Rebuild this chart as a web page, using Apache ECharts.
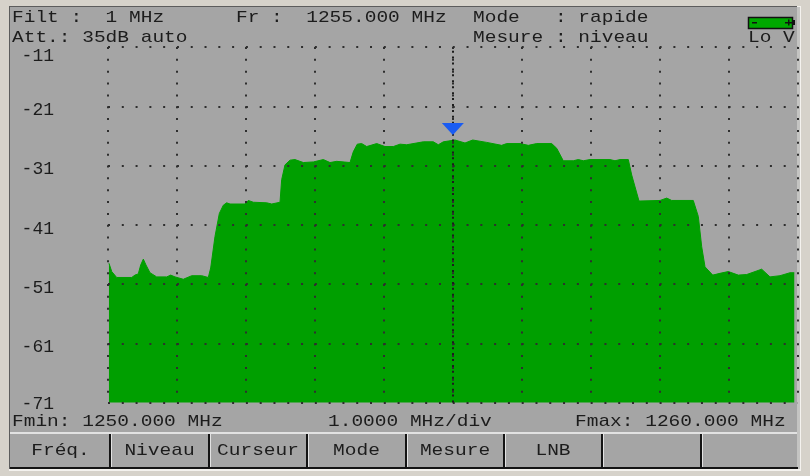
<!DOCTYPE html>
<html><head><meta charset="utf-8">
<style>html,body{margin:0;padding:0;background:#d6d2ca}#c{width:810px;height:476px}</style>
<script src="https://cdn.jsdelivr.net/npm/echarts@6/dist/echarts.min.js"></script>
</head><body><div id="c"></div>
<script>
var freqOffsetMHz = [0.014,0.054,0.126,0.344,0.391,0.439,0.474,0.512,0.551,0.609,0.706,0.851,0.909,0.971,1.092,1.214,1.359,1.454,1.489,1.551,1.614,1.672,1.721,1.769,1.986,2.034,2.107,2.301,2.374,2.494,2.518,2.566,2.639,2.711,2.832,2.977,3.122,3.219,3.316,3.509,3.556,3.614,3.678,3.751,3.896,4.016,4.137,4.234,4.331,4.572,4.717,4.789,4.862,5.031,5.176,5.288,5.491,5.708,5.781,5.974,6.094,6.216,6.433,6.506,6.601,6.746,6.819,6.892,6.988,7.278,7.351,7.424,7.544,7.593,7.699,8.004,8.101,8.173,8.486,8.559,8.608,8.656,8.768,8.873,8.994,9.139,9.261,9.478,9.598,9.743,9.888,9.950];
var levelDb = [-47.5,-48.9,-49.9,-49.9,-49.5,-49.3,-47.8,-46.8,-47.8,-49.1,-49.8,-49.8,-49.5,-49.8,-50.2,-49.6,-49.6,-49.9,-48.3,-43.0,-39.1,-37.7,-37.3,-37.5,-37.5,-36.9,-37.2,-37.3,-37.5,-37.2,-33.4,-30.9,-30.1,-30.0,-30.5,-30.4,-30.0,-30.5,-30.3,-30.5,-28.7,-27.4,-27.3,-27.8,-27.3,-27.8,-27.8,-27.4,-27.5,-27.0,-27.0,-27.5,-27.0,-26.7,-27.2,-26.7,-27.1,-27.6,-27.3,-27.3,-27.6,-27.3,-27.3,-28.1,-30.2,-30.2,-30.0,-30.2,-30.0,-30.0,-30.2,-30.0,-30.0,-32.6,-37.0,-36.9,-36.5,-36.9,-36.9,-39.6,-44.7,-48.1,-49.5,-49.2,-48.9,-49.5,-49.4,-48.5,-49.8,-49.6,-49.1,-49.1];
var fMin = 1250, fMax = 1260, fStep = 1;
var levelMin = -71, levelMax = -11, levelStep = 10;
var cursorFreq = 1255, cursorMarkerLevel = -24.85;
var headerTexts = [
  ["Filt :  1 MHz",12,17],["Fr :  1255.000 MHz",236,17],["Mode   : rapide",473,17],
  ["Att.: 35dB auto",12,37],["Mesure : niveau",473,37],["Lo V",748,37],
  ["Fmin: 1250.000 MHz",12,421],["1.0000 MHz/div",328,421],["Fmax: 1260.000 MHz",575,421]
];
var buttonLabels = ["Fréq.","Niveau","Curseur","Mode","Mesure","LNB","",""];
var buttonEdges = [11,110,209,307,406,504,602,701,797];

var FONT = '17px "Liberation Mono"';
var DARK = '#1c1c1c';
var chart = echarts.init(document.getElementById('c'), null, {renderer:'canvas'});
var g = [];
function rect(x,y,w,h,fill,z,extra){
  var s = {fill:fill}; if(extra) for(var k in extra) s[k]=extra[k];
  g.push({type:'rect',shape:{x:x,y:y,width:w,height:h},style:s,z:z,silent:true});
}
// panel
rect(9,6,792,465,'#f4f2ee',-10);
rect(9,6,788,463,'#5c5c5c',-9);
rect(10,7,787,460,'#a5a5a5',-8);
rect(797,7,3,462,'#c4c4c2',-8);
rect(10,432,787,2,'#e2e2e2',-7);
rect(10,467,788,2,'#141414',-7);
// buttons
for (var i=0;i<buttonLabels.length;i++){
  var a=buttonEdges[i], b=buttonEdges[i+1];
  if(i>0){ rect(a-1,434,2,33,'#141414',-6); rect(a+1,434,1,33,'#e2e2e2',-6); }
  if(buttonLabels[i]) g.push({type:'text',x:(a+b)/2,y:450,scaleX:1.147,silent:true,z:10,
    style:{text:buttonLabels[i],font:FONT,fill:DARK,align:'center',verticalAlign:'middle'}});
}
headerTexts.forEach(function(t){
  g.push({type:'text',x:t[1],y:t[2],scaleX:1.147,silent:true,z:10,
    style:{text:t[0],font:FONT,fill:DARK,align:'left',verticalAlign:'middle'}});
});
// battery
rect(748.5,17.5,44,11,'#00a800',5,{stroke:'#111',lineWidth:1.5});
rect(793,20,2,5,'#111',5);
rect(752,22,5,1.5,'#111',6);
rect(785,22,7,1.5,'#111',6);
rect(788,19.5,1.5,6,'#111',6);

chart.setOption({
  animation:false,
  backgroundColor:'#d6d2ca',
  graphic:{elements:g},
  grid:{left:108,right:12.3,top:47,bottom:73.5,containLabel:false},
  xAxis:{type:'value',min:fMin,max:fMax,interval:fStep,z:5,
    axisLine:{show:false},axisTick:{show:false},axisLabel:{show:false},
    splitLine:{show:true,lineStyle:{color:'#2e2e2e',width:2,type:[2,9.85]}}},
  yAxis:{type:'value',min:levelMin,max:levelMax,interval:levelStep,z:5,
    axisLine:{show:false},axisTick:{show:false},
    axisLabel:{show:true,margin:54,color:DARK,fontFamily:'Liberation Mono',fontSize:18,align:'right',
      formatter:function(v){
        var k = v===levelMax ? 'a' : (v===levelMin ? 'c' : 'b');
        return '{'+k+'|'+v+'}';
      },
      rich:{a:{padding:[18,0,0,0],fontFamily:'Liberation Mono',fontSize:18,color:DARK},
            b:{padding:[8,0,0,0],fontFamily:'Liberation Mono',fontSize:18,color:DARK},
            c:{padding:[3,0,0,0],fontFamily:'Liberation Mono',fontSize:18,color:DARK}}},
    splitLine:{show:true,lineStyle:{color:'#2e2e2e',width:2,type:[2,11.79]}}},
  series:[{
    type:'line',symbol:'none',z:2,
    data:freqOffsetMHz.map(function(d,i){return [fMin+d,levelDb[i]];}),
    lineStyle:{color:'#009f00',width:1},
    areaStyle:{color:'#009f00',opacity:1,origin:'start'},
    markLine:{silent:true,symbol:'none',animation:false,label:{show:false},z:6,
      lineStyle:{color:'#1c1c1c',width:2,type:[2,3.93]},
      data:[{xAxis:cursorFreq}]},
    markPoint:{silent:true,animation:false,z:7,label:{show:false},
      symbol:'path://M0 0L20 0L10 12Z',symbolSize:[22,12],
      itemStyle:{color:'#1a5cf2'},
      data:[{coord:[cursorFreq,cursorMarkerLevel]}]}
  }]
});
</script></body></html>
